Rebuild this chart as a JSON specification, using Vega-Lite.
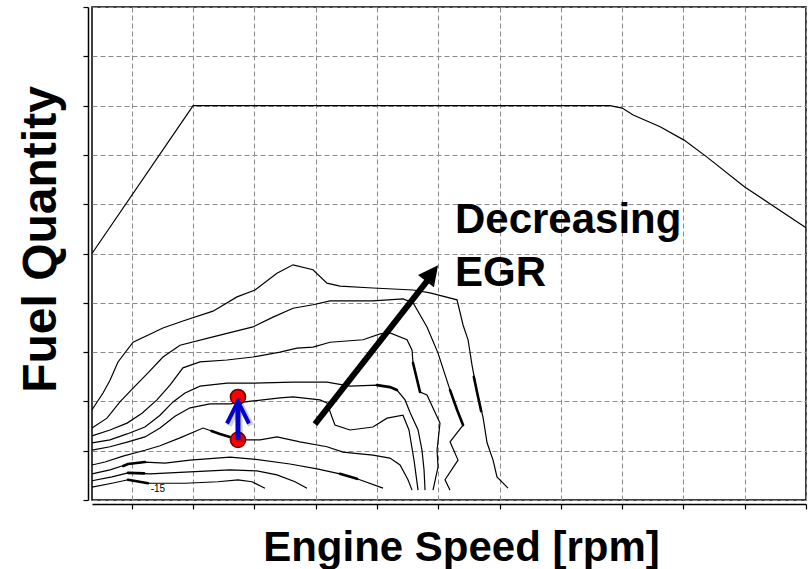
{
  "$schema": "https://vega.github.io/schema/vega-lite/v6.json",
  "width": 714,
  "height": 493,
  "autosize": {"type": "none"},
  "padding": {"left": 92, "top": 7, "right": 5, "bottom": 69},
  "background": "#ffffff",
  "config": {
    "view": {"stroke": "#000000", "strokeWidth": 1.5},
    "font": "Liberation Sans"
  },
  "datasets": {
    "fullLoad": [
      {"i": 0, "rpm": 675, "q": 50.0},
      {"i": 1, "rpm": 1500, "q": 80.0},
      {"i": 2, "rpm": 4900, "q": 80.0},
      {"i": 3, "rpm": 5000, "q": 79.5},
      {"i": 4, "rpm": 5090, "q": 78.1},
      {"i": 5, "rpm": 5310, "q": 75.7},
      {"i": 6, "rpm": 5505, "q": 73.0},
      {"i": 7, "rpm": 5690, "q": 69.6},
      {"i": 8, "rpm": 6000, "q": 63.5},
      {"i": 9, "rpm": 6500, "q": 55.2}
    ],
    "contours": [
      {"s": "A", "i": 0, "rpm": 675, "q": 18.3},
      {"s": "A", "i": 1, "rpm": 765, "q": 21.7},
      {"s": "A", "i": 2, "rpm": 822, "q": 24.3},
      {"s": "A", "i": 3, "rpm": 887, "q": 28.0},
      {"s": "A", "i": 4, "rpm": 1010, "q": 32.0},
      {"s": "A", "i": 5, "rpm": 1254, "q": 34.9},
      {"s": "A", "i": 6, "rpm": 1417, "q": 36.3},
      {"s": "A", "i": 7, "rpm": 1662, "q": 38.3},
      {"s": "A", "i": 8, "rpm": 1858, "q": 41.2},
      {"s": "A", "i": 9, "rpm": 2005, "q": 42.6},
      {"s": "A", "i": 10, "rpm": 2184, "q": 46.0},
      {"s": "A", "i": 11, "rpm": 2315, "q": 47.7},
      {"s": "A", "i": 12, "rpm": 2478, "q": 46.7},
      {"s": "A", "i": 13, "rpm": 2592, "q": 44.0},
      {"s": "A", "i": 14, "rpm": 2698, "q": 43.4},
      {"s": "A", "i": 15, "rpm": 2967, "q": 43.0},
      {"s": "A", "i": 16, "rpm": 3294, "q": 42.6},
      {"s": "A", "i": 17, "rpm": 3433, "q": 42.0},
      {"s": "A", "i": 18, "rpm": 3653, "q": 40.6},
      {"s": "A", "i": 19, "rpm": 3702, "q": 35.5},
      {"s": "A", "i": 20, "rpm": 3743, "q": 32.5},
      {"s": "A", "i": 21, "rpm": 3775, "q": 27.4},
      {"s": "A", "i": 22, "rpm": 3816, "q": 21.9},
      {"s": "A", "i": 23, "rpm": 3865, "q": 16.8},
      {"s": "A", "i": 24, "rpm": 3898, "q": 11.6},
      {"s": "A", "i": 25, "rpm": 3947, "q": 8.1},
      {"s": "A", "i": 26, "rpm": 3979, "q": 4.7},
      {"s": "A", "i": 27, "rpm": 4069, "q": 2.4},

      {"s": "B", "i": 0, "rpm": 675, "q": 14.6},
      {"s": "B", "i": 1, "rpm": 797, "q": 16.6},
      {"s": "B", "i": 2, "rpm": 903, "q": 19.9},
      {"s": "B", "i": 3, "rpm": 1010, "q": 22.7},
      {"s": "B", "i": 4, "rpm": 1132, "q": 25.8},
      {"s": "B", "i": 5, "rpm": 1254, "q": 29.0},
      {"s": "B", "i": 6, "rpm": 1393, "q": 31.4},
      {"s": "B", "i": 7, "rpm": 1662, "q": 33.1},
      {"s": "B", "i": 8, "rpm": 1988, "q": 35.1},
      {"s": "B", "i": 9, "rpm": 2152, "q": 37.1},
      {"s": "B", "i": 10, "rpm": 2315, "q": 38.9},
      {"s": "B", "i": 11, "rpm": 2478, "q": 39.6},
      {"s": "B", "i": 12, "rpm": 2617, "q": 40.4},
      {"s": "B", "i": 13, "rpm": 2967, "q": 40.4},
      {"s": "B", "i": 14, "rpm": 3212, "q": 40.8},
      {"s": "B", "i": 15, "rpm": 3294, "q": 40.0},
      {"s": "B", "i": 16, "rpm": 3408, "q": 35.1},
      {"s": "B", "i": 17, "rpm": 3498, "q": 29.8},
      {"s": "B", "i": 18, "rpm": 3596, "q": 22.3},
      {"s": "B", "i": 19, "rpm": 3653, "q": 18.3},
      {"s": "B", "i": 20, "rpm": 3702, "q": 15.2},
      {"s": "B", "i": 21, "rpm": 3596, "q": 11.8},
      {"s": "B", "i": 22, "rpm": 3661, "q": 8.1},
      {"s": "B", "i": 23, "rpm": 3555, "q": 4.1},
      {"s": "B", "i": 24, "rpm": 3596, "q": 2.0},

      {"s": "C", "i": 0, "rpm": 675, "q": 13.0},
      {"s": "C", "i": 1, "rpm": 822, "q": 14.2},
      {"s": "C", "i": 2, "rpm": 961, "q": 15.6},
      {"s": "C", "i": 3, "rpm": 1083, "q": 17.6},
      {"s": "C", "i": 4, "rpm": 1205, "q": 20.3},
      {"s": "C", "i": 5, "rpm": 1311, "q": 23.3},
      {"s": "C", "i": 6, "rpm": 1417, "q": 26.8},
      {"s": "C", "i": 7, "rpm": 1556, "q": 28.0},
      {"s": "C", "i": 8, "rpm": 1776, "q": 28.4},
      {"s": "C", "i": 9, "rpm": 1988, "q": 29.0},
      {"s": "C", "i": 10, "rpm": 2209, "q": 30.0},
      {"s": "C", "i": 11, "rpm": 2347, "q": 30.8},
      {"s": "C", "i": 12, "rpm": 2478, "q": 31.0},
      {"s": "C", "i": 13, "rpm": 2617, "q": 32.0},
      {"s": "C", "i": 14, "rpm": 2886, "q": 32.5},
      {"s": "C", "i": 15, "rpm": 3025, "q": 33.7},
      {"s": "C", "i": 16, "rpm": 3106, "q": 33.9},
      {"s": "C", "i": 17, "rpm": 3245, "q": 32.5},
      {"s": "C", "i": 18, "rpm": 3286, "q": 30.4},
      {"s": "C", "i": 19, "rpm": 3294, "q": 27.8},
      {"s": "C", "i": 20, "rpm": 3351, "q": 21.9},
      {"s": "C", "i": 21, "rpm": 3408, "q": 21.3},
      {"s": "C", "i": 22, "rpm": 3514, "q": 15.6},
      {"s": "C", "i": 23, "rpm": 3490, "q": 10.1},
      {"s": "C", "i": 24, "rpm": 3498, "q": 6.7},
      {"s": "C", "i": 25, "rpm": 3457, "q": 2.0},

      {"s": "D", "i": 0, "rpm": 675, "q": 11.6},
      {"s": "D", "i": 1, "rpm": 822, "q": 12.2},
      {"s": "D", "i": 2, "rpm": 961, "q": 13.4},
      {"s": "D", "i": 3, "rpm": 1107, "q": 14.8},
      {"s": "D", "i": 4, "rpm": 1230, "q": 17.2},
      {"s": "D", "i": 5, "rpm": 1336, "q": 19.9},
      {"s": "D", "i": 6, "rpm": 1434, "q": 21.7},
      {"s": "D", "i": 7, "rpm": 1556, "q": 23.1},
      {"s": "D", "i": 8, "rpm": 1776, "q": 23.7},
      {"s": "D", "i": 9, "rpm": 1988, "q": 23.7},
      {"s": "D", "i": 10, "rpm": 2315, "q": 23.9},
      {"s": "D", "i": 11, "rpm": 2592, "q": 23.9},
      {"s": "D", "i": 12, "rpm": 2780, "q": 23.1},
      {"s": "D", "i": 13, "rpm": 3000, "q": 23.3},
      {"s": "D", "i": 14, "rpm": 3106, "q": 22.9},
      {"s": "D", "i": 15, "rpm": 3163, "q": 22.3},
      {"s": "D", "i": 16, "rpm": 3229, "q": 20.3},
      {"s": "D", "i": 17, "rpm": 3269, "q": 17.8},
      {"s": "D", "i": 18, "rpm": 3335, "q": 14.2},
      {"s": "D", "i": 19, "rpm": 3367, "q": 10.1},
      {"s": "D", "i": 20, "rpm": 3384, "q": 6.1},
      {"s": "D", "i": 21, "rpm": 3392, "q": 2.0},

      {"s": "E", "i": 0, "rpm": 675, "q": 10.1},
      {"s": "E", "i": 1, "rpm": 822, "q": 10.8},
      {"s": "E", "i": 2, "rpm": 969, "q": 11.8},
      {"s": "E", "i": 3, "rpm": 1107, "q": 12.8},
      {"s": "E", "i": 4, "rpm": 1230, "q": 14.6},
      {"s": "E", "i": 5, "rpm": 1352, "q": 17.0},
      {"s": "E", "i": 6, "rpm": 1475, "q": 18.7},
      {"s": "E", "i": 7, "rpm": 1638, "q": 19.5},
      {"s": "E", "i": 8, "rpm": 1801, "q": 19.5},
      {"s": "E", "i": 9, "rpm": 1988, "q": 20.1},
      {"s": "E", "i": 10, "rpm": 2209, "q": 20.7},
      {"s": "E", "i": 11, "rpm": 2315, "q": 20.9},
      {"s": "E", "i": 12, "rpm": 2535, "q": 20.3},
      {"s": "E", "i": 13, "rpm": 2592, "q": 19.7},
      {"s": "E", "i": 14, "rpm": 2633, "q": 16.8},
      {"s": "E", "i": 15, "rpm": 2657, "q": 15.2},
      {"s": "E", "i": 16, "rpm": 2780, "q": 14.2},
      {"s": "E", "i": 17, "rpm": 2967, "q": 14.8},
      {"s": "E", "i": 18, "rpm": 3082, "q": 16.6},
      {"s": "E", "i": 19, "rpm": 3212, "q": 17.2},
      {"s": "E", "i": 20, "rpm": 3261, "q": 14.2},
      {"s": "E", "i": 21, "rpm": 3302, "q": 8.1},
      {"s": "E", "i": 22, "rpm": 3335, "q": 2.0},

      {"s": "F", "i": 0, "rpm": 675, "q": 7.1},
      {"s": "F", "i": 1, "rpm": 781, "q": 7.7},
      {"s": "F", "i": 2, "rpm": 928, "q": 8.9},
      {"s": "F", "i": 3, "rpm": 1107, "q": 10.1},
      {"s": "F", "i": 4, "rpm": 1230, "q": 11.0},
      {"s": "F", "i": 5, "rpm": 1393, "q": 12.6},
      {"s": "F", "i": 6, "rpm": 1581, "q": 14.6},
      {"s": "F", "i": 7, "rpm": 1719, "q": 13.4},
      {"s": "F", "i": 8, "rpm": 1866, "q": 12.2},
      {"s": "F", "i": 9, "rpm": 2046, "q": 12.2},
      {"s": "F", "i": 10, "rpm": 2184, "q": 12.8},
      {"s": "F", "i": 11, "rpm": 2372, "q": 11.8},
      {"s": "F", "i": 12, "rpm": 2592, "q": 10.8},
      {"s": "F", "i": 13, "rpm": 2723, "q": 9.7},
      {"s": "F", "i": 14, "rpm": 2967, "q": 9.1},
      {"s": "F", "i": 15, "rpm": 3106, "q": 8.5},
      {"s": "F", "i": 16, "rpm": 3188, "q": 7.1},
      {"s": "F", "i": 17, "rpm": 3253, "q": 4.1},
      {"s": "F", "i": 18, "rpm": 3286, "q": 2.0},

      {"s": "G", "i": 0, "rpm": 675, "q": 5.3},
      {"s": "G", "i": 1, "rpm": 822, "q": 6.1},
      {"s": "G", "i": 2, "rpm": 969, "q": 7.3},
      {"s": "G", "i": 3, "rpm": 1107, "q": 7.7},
      {"s": "G", "i": 4, "rpm": 1271, "q": 7.5},
      {"s": "G", "i": 5, "rpm": 1475, "q": 8.1},
      {"s": "G", "i": 6, "rpm": 1801, "q": 8.7},
      {"s": "G", "i": 7, "rpm": 1988, "q": 8.3},
      {"s": "G", "i": 8, "rpm": 2290, "q": 7.3},
      {"s": "G", "i": 9, "rpm": 2511, "q": 6.3},
      {"s": "G", "i": 10, "rpm": 2698, "q": 5.3},
      {"s": "G", "i": 11, "rpm": 2837, "q": 4.3},
      {"s": "G", "i": 12, "rpm": 3049, "q": 2.4},

      {"s": "H", "i": 0, "rpm": 675, "q": 3.9},
      {"s": "H", "i": 1, "rpm": 838, "q": 4.7},
      {"s": "H", "i": 2, "rpm": 969, "q": 5.5},
      {"s": "H", "i": 3, "rpm": 1148, "q": 5.3},
      {"s": "H", "i": 4, "rpm": 1475, "q": 5.7},
      {"s": "H", "i": 5, "rpm": 1801, "q": 6.1},
      {"s": "H", "i": 6, "rpm": 2021, "q": 5.9},
      {"s": "H", "i": 7, "rpm": 2184, "q": 5.1},
      {"s": "H", "i": 8, "rpm": 2331, "q": 3.7},
      {"s": "H", "i": 9, "rpm": 2429, "q": 2.4},

      {"s": "I", "i": 0, "rpm": 675, "q": 2.6},
      {"s": "I", "i": 1, "rpm": 838, "q": 3.4},
      {"s": "I", "i": 2, "rpm": 969, "q": 4.1},
      {"s": "I", "i": 3, "rpm": 1132, "q": 3.4},
      {"s": "I", "i": 4, "rpm": 1434, "q": 3.4},
      {"s": "I", "i": 5, "rpm": 1703, "q": 3.7},
      {"s": "I", "i": 6, "rpm": 1866, "q": 4.1},
      {"s": "I", "i": 7, "rpm": 1980, "q": 3.7},
      {"s": "I", "i": 8, "rpm": 2086, "q": 2.4}
    ],
    "heavySegments": [
      {"s": "b1", "i": 0, "rpm": 930, "q": 6.9},
      {"s": "b1", "i": 1, "rpm": 969, "q": 7.3},
      {"s": "b1", "i": 2, "rpm": 1107, "q": 7.7},
      {"s": "b2", "i": 0, "rpm": 969, "q": 5.5},
      {"s": "b2", "i": 1, "rpm": 1100, "q": 5.4},
      {"s": "b3", "i": 0, "rpm": 969, "q": 4.1},
      {"s": "b3", "i": 1, "rpm": 1132, "q": 3.4},
      {"s": "b4", "i": 0, "rpm": 3000, "q": 23.3},
      {"s": "b4", "i": 1, "rpm": 3106, "q": 22.9},
      {"s": "b4", "i": 2, "rpm": 3163, "q": 22.3},
      {"s": "b5", "i": 0, "rpm": 3294, "q": 27.8},
      {"s": "b5", "i": 1, "rpm": 3351, "q": 21.9},
      {"s": "b6", "i": 0, "rpm": 3596, "q": 22.3},
      {"s": "b6", "i": 1, "rpm": 3653, "q": 18.3},
      {"s": "b6", "i": 2, "rpm": 3702, "q": 15.2},
      {"s": "b7", "i": 0, "rpm": 3790, "q": 25.0},
      {"s": "b7", "i": 1, "rpm": 3816, "q": 21.9},
      {"s": "b7", "i": 2, "rpm": 3850, "q": 18.0},
      {"s": "b8", "i": 0, "rpm": 1650, "q": 14.0},
      {"s": "b8", "i": 1, "rpm": 1719, "q": 13.4},
      {"s": "b8", "i": 2, "rpm": 1800, "q": 12.8},
      {"s": "b9", "i": 0, "rpm": 2698, "q": 5.3},
      {"s": "b9", "i": 1, "rpm": 2837, "q": 4.3}
    ],
    "egrArrow": [
      {"rpm": 2494, "q": 15.4, "rpm2": 3408, "q2": 44.4}
    ],
    "egrHead": [
      {"rpm": 3449, "q": 46.0}
    ],
    "operatingPoints": [
      {"rpm": 1866, "q": 20.9},
      {"rpm": 1866, "q": 12.2}
    ],
    "shiftShaft": [
      {"rpm": 1866, "q": 12.2, "rpm2": 1866, "q2": 19.7}
    ],
    "shiftHead": [
      {"rpm": 1866, "q": 17.75}
    ],
    "notes": [
      {"t": "Decreasing", "rpm": 3636, "q": 54.2},
      {"t": "EGR", "rpm": 3636, "q": 43.4}
    ],
    "contourLabel": [
      {"t": "-15", "rpm": 1213, "q": 1.6}
    ]
  },
  "encoding": {
    "x": {
      "field": "rpm",
      "type": "quantitative",
      "scale": {"domain": [675, 6500], "nice": false, "zero": false},
      "axis": {
        "values": [1000, 1500, 2000, 2500, 3000, 3500, 4000, 4500, 5000, 5500, 6000, 6500],
        "labels": false,
        "offset": 4,
        "domainColor": "#000000",
        "domainWidth": 1.5,
        "tickColor": "#000000",
        "tickSize": 5,
        "tickWidth": 1.2,
        "grid": true,
        "gridColor": "#8a8a8a",
        "gridDash": [5, 3],
        "gridWidth": 1,
        "title": "Engine Speed [rpm]",
        "titleFont": "Liberation Sans",
        "titleFontSize": 42,
        "titleFontWeight": "bold",
        "titleColor": "#000000",
        "titleAlign": "center",
        "titleBaseline": "alphabetic",
        "titleX": 369,
        "titleY": 56
      }
    },
    "y": {
      "field": "q",
      "type": "quantitative",
      "scale": {"domain": [0, 100], "nice": false},
      "axis": {
        "values": [0, 10, 20, 30, 40, 50, 60, 70, 80, 90, 100],
        "labels": false,
        "offset": 4,
        "domainColor": "#000000",
        "domainWidth": 1.5,
        "tickColor": "#000000",
        "tickSize": 5,
        "tickWidth": 1.2,
        "grid": true,
        "gridColor": "#8a8a8a",
        "gridDash": [5, 3],
        "gridWidth": 1,
        "title": "Fuel Quantity",
        "titleFont": "Liberation Sans",
        "titleFontSize": 48,
        "titleFontWeight": "bold",
        "titleColor": "#000000",
        "titleAngle": 270,
        "titleAlign": "center",
        "titleBaseline": "alphabetic",
        "titleX": -33,
        "titleY": 232
      }
    }
  },
  "layer": [
    {
      "data": {"name": "fullLoad"},
      "mark": {"type": "line", "stroke": "#000000", "strokeWidth": 1.2},
      "encoding": {"order": {"field": "i", "type": "quantitative"}}
    },
    {
      "data": {"name": "contours"},
      "mark": {"type": "line", "stroke": "#000000", "strokeWidth": 1.2},
      "encoding": {
        "detail": {"field": "s", "type": "nominal"},
        "order": {"field": "i", "type": "quantitative"}
      }
    },
    {
      "data": {"name": "heavySegments"},
      "mark": {"type": "line", "stroke": "#000000", "strokeWidth": 2.6, "strokeCap": "round"},
      "encoding": {
        "detail": {"field": "s", "type": "nominal"},
        "order": {"field": "i", "type": "quantitative"}
      }
    },
    {
      "data": {"name": "contourLabel"},
      "mark": {"type": "text", "fontSize": 10, "align": "center", "baseline": "alphabetic", "color": "#000000"},
      "encoding": {"text": {"field": "t"}}
    },
    {
      "data": {"name": "egrArrow"},
      "mark": {"type": "rule", "stroke": "#000000", "strokeWidth": 6, "strokeCap": "butt"},
      "encoding": {"x2": {"field": "rpm2"}, "y2": {"field": "q2"}}
    },
    {
      "data": {"name": "egrHead"},
      "mark": {"type": "point", "shape": "M0,-1L1,1L-1,1Z", "size": 400, "filled": true, "color": "#000000", "opacity": 1, "angle": 37.5},
      "encoding": {}
    },
    {
      "data": {"name": "operatingPoints"},
      "mark": {"type": "point", "shape": "circle", "size": 230, "filled": true, "fill": "#ff0000", "stroke": "#6b0000", "strokeWidth": 1.5, "opacity": 1},
      "encoding": {}
    },
    {
      "data": {"name": "shiftShaft"},
      "mark": {"type": "rule", "stroke": "#000000", "strokeWidth": 7, "strokeCap": "butt", "opacity": 0.18, "xOffset": 2, "yOffset": 2},
      "encoding": {"x2": {"field": "rpm2"}, "y2": {"field": "q2"}}
    },
    {
      "data": {"name": "shiftHead"},
      "mark": {"type": "point", "shape": "M-1,1L0,-1L1,1", "size": 484, "filled": false, "stroke": "#000000", "strokeWidth": 6, "opacity": 0.18, "xOffset": 2, "yOffset": 2},
      "encoding": {}
    },
    {
      "data": {"name": "shiftShaft"},
      "mark": {"type": "rule", "stroke": "#0000cc", "strokeWidth": 5, "strokeCap": "butt"},
      "encoding": {"x2": {"field": "rpm2"}, "y2": {"field": "q2"}}
    },
    {
      "data": {"name": "shiftHead"},
      "mark": {"type": "point", "shape": "M-1,1L0,-1L1,1", "size": 484, "filled": false, "stroke": "#0000cc", "strokeWidth": 4, "opacity": 1, "strokeJoin": "miter"},
      "encoding": {}
    },
    {
      "data": {"name": "notes"},
      "mark": {"type": "text", "font": "Liberation Sans", "fontSize": 42, "fontWeight": "bold", "align": "left", "baseline": "alphabetic", "color": "#000000"},
      "encoding": {"text": {"field": "t"}}
    }
  ]
}
